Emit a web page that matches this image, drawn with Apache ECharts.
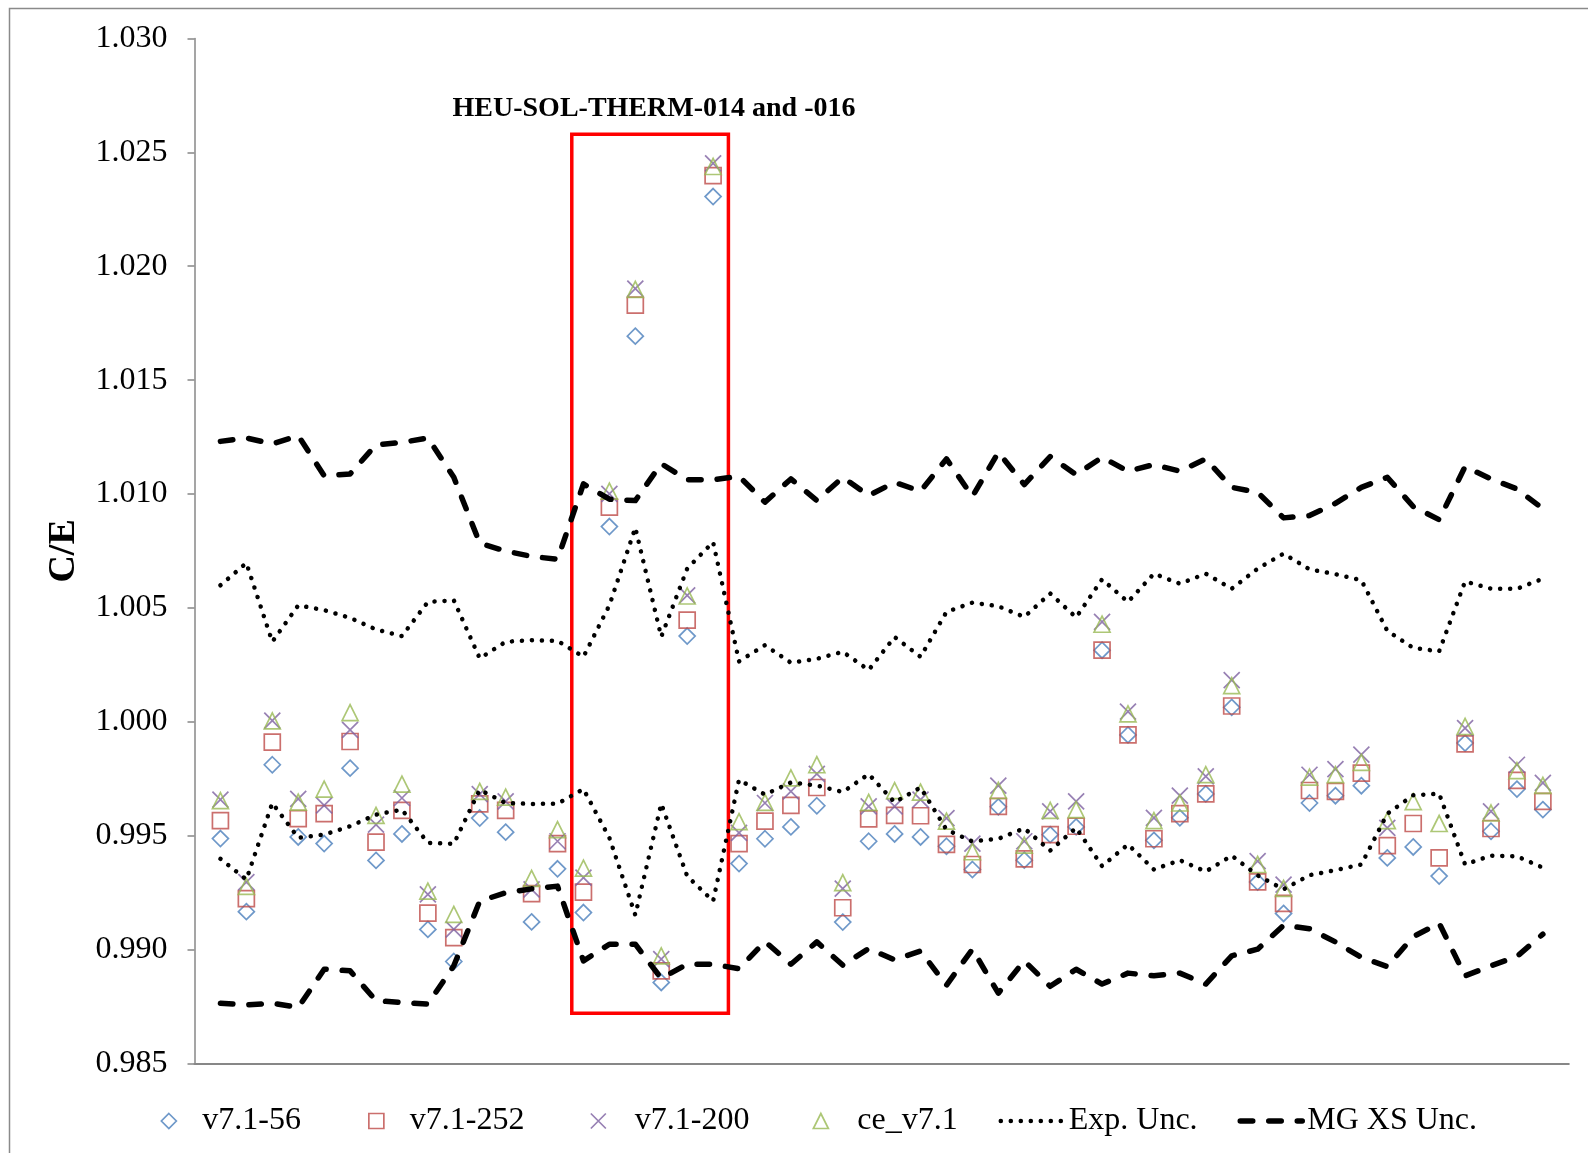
<!DOCTYPE html>
<html>
<head>
<meta charset="utf-8">
<title>C/E – HEU-SOL-THERM</title>
<script src="https://cdn.jsdelivr.net/npm/echarts@6/dist/echarts.min.js"></script>
<style>
  html, body { margin: 0; padding: 0; background: #ffffff; }
  #chart { width: 1588px; height: 1153px; }
</style>
</head>
<body>
<div id="chart"></div>
<script>
// C/E values per benchmark case (cases numbered 1..52 along the x axis)
const v71_56 = [0.99487, 0.99166, 0.99811, 0.99494, 0.99465, 0.99796, 0.99391, 0.99507, 0.99088, 0.98947,
  0.99577, 0.99515, 0.99121, 0.99354, 0.99162, 1.00857, 1.01693, 0.98855, 1.00376, 1.02306,
  0.99377, 0.99486, 0.99538, 0.99631, 0.99120, 0.99475, 0.99507, 0.99494, 0.99453, 0.99351,
  0.99626, 0.99392, 0.99504, 0.99538, 1.00314, 0.99942, 0.99479, 0.99578, 0.99683, 1.00063,
  0.99296, 0.99158, 0.99643, 0.99675, 0.99719, 0.99402, 0.99450, 0.99322, 0.99906, 0.99519,
  0.99704, 0.99614];
const v71_252 = [0.99566, 0.99223, 0.99910, 0.99574, 0.99596, 0.99913, 0.99471, 0.99611, 0.99159, 0.99052,
  0.99639, 0.99611, 0.99245, 0.99465, 0.99252, 1.00942, 1.01829, 0.98906, 1.00446, 1.02398,
  0.99465, 0.99563, 0.99633, 0.99711, 0.99183, 0.99573, 0.99589, 0.99587, 0.99461, 0.99373,
  0.99628, 0.99398, 0.99504, 0.99541, 1.00314, 0.99942, 0.99486, 0.99596, 0.99683, 1.00069,
  0.99297, 0.99202, 0.99698, 0.99694, 0.99774, 0.99456, 0.99553, 0.99402, 0.99903, 0.99531,
  0.99742, 0.99650];
const v71_200 = [0.99658, 0.99296, 1.00005, 0.99661, 0.99633, 0.99964, 0.99548, 0.99665, 0.99242, 0.99088,
  0.99682, 0.99650, 0.99264, 0.99475, 0.99315, 1.01000, 1.01902, 0.98957, 1.00555, 1.02452,
  0.99512, 0.99643, 0.99694, 0.99771, 0.99267, 0.99628, 0.99628, 0.99658, 0.99577, 0.99465,
  0.99719, 0.99475, 0.99606, 0.99650, 1.00438, 1.00044, 0.99578, 0.99675, 0.99760, 1.00183,
  0.99388, 0.99285, 0.99767, 0.99792, 0.99855, 0.99534, null, null, 0.99972, 0.99606,
  0.99811, 0.99731];
const ce_v71 = [0.99653, 0.99277, 1.00004, 0.99647, 0.99704, 1.00040, 0.99589, 0.99726, 0.99256, 0.99154,
  0.99694, 0.99669, 0.99312, 0.99526, 0.99357, 1.01012, 1.01898, 0.98972, 1.00552, 1.02438,
  0.99561, 0.99646, 0.99753, 0.99811, 0.99293, 0.99646, 0.99697, 0.99691, 0.99563, 0.99429,
  0.99698, 0.99458, 0.99611, 0.99614, 1.00428, 1.00034, 0.99566, 0.99643, 0.99768, 1.00158,
  0.99373, 0.99268, 0.99757, 0.99768, 0.99821, 0.99566, 0.99649, 0.99553, 0.99979, 0.99599,
  0.99785, 0.99720];

// Experimental uncertainty band (upper / lower bound)
const expUncUpper = [1.00599, 1.00697, 1.00351, 1.00511, 1.00490, 1.00456, 1.00405, 1.00376, 1.00526, 1.00533,
  1.00278, 1.00351, 1.00358, 1.00355, 1.00285, 1.00511, 1.00852, 1.00373, 1.00672, 1.00789,
  1.00265, 1.00336, 1.00259, 1.00276, 1.00307, 1.00227, 1.00372, 1.00285, 1.00482, 1.00523,
  1.00507, 1.00460, 1.00563, 1.00458, 1.00625, 1.00526, 1.00650, 1.00606, 1.00650, 1.00584,
  1.00672, 1.00738, 1.00669, 1.00648, 1.00621, 1.00399, 1.00324, 1.00309, 1.00616, 1.00584,
  1.00584, 1.00628];
const expUncLower = [0.99398, 0.99307, 0.99643, 0.99490, 0.99504, 0.99541, 0.99592, 0.99614, 0.99468, 0.99464,
  0.99701, 0.99643, 0.99639, 0.99640, 0.99704, 0.99490, 0.99151, 0.99640, 0.99322, 0.99212,
  0.99745, 0.99680, 0.99733, 0.99720, 0.99691, 0.99770, 0.99646, 0.99711, 0.99526, 0.99474,
  0.99486, 0.99532, 0.99434, 0.99534, 0.99366, 0.99461, 0.99351, 0.99392, 0.99342, 0.99412,
  0.99325, 0.99264, 0.99326, 0.99348, 0.99373, 0.99596, 0.99677, 0.99684, 0.99373, 0.99412,
  0.99409, 0.99359];

// Multigroup cross-section uncertainty band (upper / lower bound)
const mgXsUpper = [1.01231, 1.01246, 1.01220, 1.01256, 1.01080, 1.01088, 1.01216, 1.01226, 1.01246, 1.01073,
  1.00784, 1.00749, 1.00726, 1.00713, 1.01044, 1.00977, 1.00971, 1.01133, 1.01062, 1.01062,
  1.01078, 1.00964, 1.01066, 1.00971, 1.01073, 1.00993, 1.01051, 1.01012, 1.01154, 1.00989,
  1.01183, 1.01041, 1.01164, 1.01085, 1.01161, 1.01100, 1.01129, 1.01100, 1.01154, 1.01029,
  1.01007, 1.00895, 1.00905, 1.00959, 1.01029, 1.01073, 1.00945, 1.00887, 1.01120, 1.01066,
  1.01022, 1.00935];
const mgXsLower = [0.98764, 0.98756, 0.98764, 0.98745, 0.98913, 0.98906, 0.98775, 0.98767, 0.98760, 0.98928,
  0.99212, 0.99249, 0.99266, 0.99278, 0.98950, 0.99023, 0.99023, 0.98873, 0.98935, 0.98935,
  0.98915, 0.99035, 0.98935, 0.99033, 0.98931, 0.99004, 0.98954, 0.98993, 0.98843, 0.99001,
  0.98808, 0.98950, 0.98838, 0.98913, 0.98848, 0.98896, 0.98884, 0.98896, 0.98848, 0.98972,
  0.99001, 0.99106, 0.99091, 0.99033, 0.98965, 0.98925, 0.99056, 0.99115, 0.98884, 0.98928,
  0.98969, 0.99067];

// Highlighted group of cases (x range in case numbers, y range in C/E)
const highlightCases = [14.55, 20.59];
const highlightCE = [0.9872, 1.0258];
const highlightTitle = 'HEU-SOL-THERM-014 and -016';

const yTickMin = 0.985, yTickMax = 1.030, yTickStep = 0.005;

const SERIF = "'Liberation Serif', 'Times New Roman', serif";
const BLUE = '#4A7EBB', RED = '#BE4B48', PURPLE = '#7D60A0', GREEN = '#98B954';
const CROSS = 'path://M0,0L10,10M10,0L0,10';

const toPoints = arr => arr.map((v, i) => [i + 1, v == null ? '-' : v]);

function markerSeries(name, values, symbol, color) {
  return {
    name, type: 'scatter', data: toPoints(values),
    symbol, symbolSize: 16,
    itemStyle: { color: 'rgba(0,0,0,0)', borderColor: color, borderWidth: 1.7 },
    emphasis: { disabled: true }
  };
}

function bandSeries(name, values, lineStyle) {
  return {
    name, type: 'line', data: toPoints(values),
    symbol: 'none', showSymbol: false, smooth: false,
    lineStyle: Object.assign({ color: '#000000', join: 'round', cap: 'round' }, lineStyle),
    itemStyle: { color: '#000000' },
    emphasis: { disabled: true }
  };
}

const dotted = { width: 4.5, type: [0.1, 9.9] };
const dashed = { width: 5.5, type: [12.5, 16] };

const s56 = markerSeries('v7.1-56', v71_56, 'diamond', BLUE);
s56.markArea = {
  silent: true,
  label: { show: false },
  itemStyle: { color: 'rgba(0,0,0,0)', borderColor: '#FF0000', borderWidth: 3.5 },
  data: [[
    { coord: [highlightCases[0], highlightCE[1]] },
    { coord: [highlightCases[1], highlightCE[0]] }
  ]]
};

const legendTop = 1105;
const legendText = { fontFamily: SERIF, fontSize: 32, color: '#000000' };

// Legend entry with a marker icon; textGap is the space between icon and label
function markerLegend(name, left, icon, color, textGap) {
  return {
    data: [{ name, icon, itemStyle: { color: 'rgba(0,0,0,0)', borderColor: color, borderWidth: 1.7 } }],
    left, top: legendTop, padding: 0,
    itemWidth: 15, itemHeight: 15, itemGap: 0, selectedMode: false,
    textStyle: Object.assign({ padding: [0, 0, 0, textGap] }, legendText)
  };
}
// Legend entry with a line sample
function lineLegend(name, left, width, lineStyle) {
  return {
    data: [{ name, itemStyle: { opacity: 0 } }],
    left, top: legendTop, padding: 0,
    itemWidth: width, itemHeight: 15, itemGap: 0, selectedMode: false,
    lineStyle: Object.assign({ color: '#000000', cap: 'round' }, lineStyle),
    textStyle: legendText
  };
}

const chart = echarts.init(document.getElementById('chart'), null, { renderer: 'canvas' });
chart.setOption({
  animation: false,
  backgroundColor: '#ffffff',
  title: {
    text: highlightTitle,
    left: 654, top: 95, textAlign: 'center', padding: 0,
    textStyle: { fontFamily: SERIF, fontSize: 28, fontWeight: 'bold', color: '#000000' }
  },
  graphic: [{
    type: 'rect', silent: true, z: -1,
    shape: { x: 9.5, y: 8.5, width: 1620, height: 1200 },
    style: { fill: 'none', stroke: '#8a8a8a', lineWidth: 1.5 }
  }],
  legend: [
    markerLegend('v7.1-56', 160.5, 'diamond', BLUE, 21),
    markerLegend('v7.1-252', 368, 'rect', RED, 21),
    markerLegend('v7.1-200', 590, CROSS, PURPLE, 24),
    markerLegend('ce_v7.1', 812.5, 'triangle', GREEN, 24),
    lineLegend('Exp. Unc.', 998.5, 63, dotted),
    lineLegend('MG XS Unc.', 1237.5, 62, dashed)
  ],
  grid: { left: 194.5, right: 19.2, top: 38.5, bottom: 89.7, containLabel: false },
  xAxis: {
    type: 'value', min: 0, max: 53,
    axisLine: { show: true, onZero: false, lineStyle: { color: '#878787', width: 2 } },
    axisTick: { show: false }, axisLabel: { show: false }, splitLine: { show: false }
  },
  yAxis: {
    type: 'value', min: yTickMin, max: yTickMax, interval: yTickStep,
    name: 'C/E', nameLocation: 'middle', nameGap: 111,
    nameTextStyle: { fontFamily: SERIF, fontSize: 38, fontWeight: 'bold', color: '#000000' },
    axisLine: { show: true, lineStyle: { color: '#878787', width: 1.5 } },
    axisTick: { show: true, inside: false, length: 7, lineStyle: { color: '#878787', width: 1.5 } },
    axisLabel: {
      margin: 27, fontFamily: SERIF, fontSize: 32, color: '#000000',
      formatter: v => v.toFixed(3)
    },
    splitLine: { show: false }
  },
  series: [
    s56,
    markerSeries('v7.1-252', v71_252, 'rect', RED),
    markerSeries('v7.1-200', v71_200, CROSS, PURPLE),
    markerSeries('ce_v7.1', ce_v71, 'triangle', GREEN),
    bandSeries('Exp. Unc.', expUncUpper, dotted),
    bandSeries('Exp. Unc.', expUncLower, dotted),
    bandSeries('MG XS Unc.', mgXsUpper, dashed),
    bandSeries('MG XS Unc.', mgXsLower, dashed)
  ]
});
</script>
</body>
</html>
